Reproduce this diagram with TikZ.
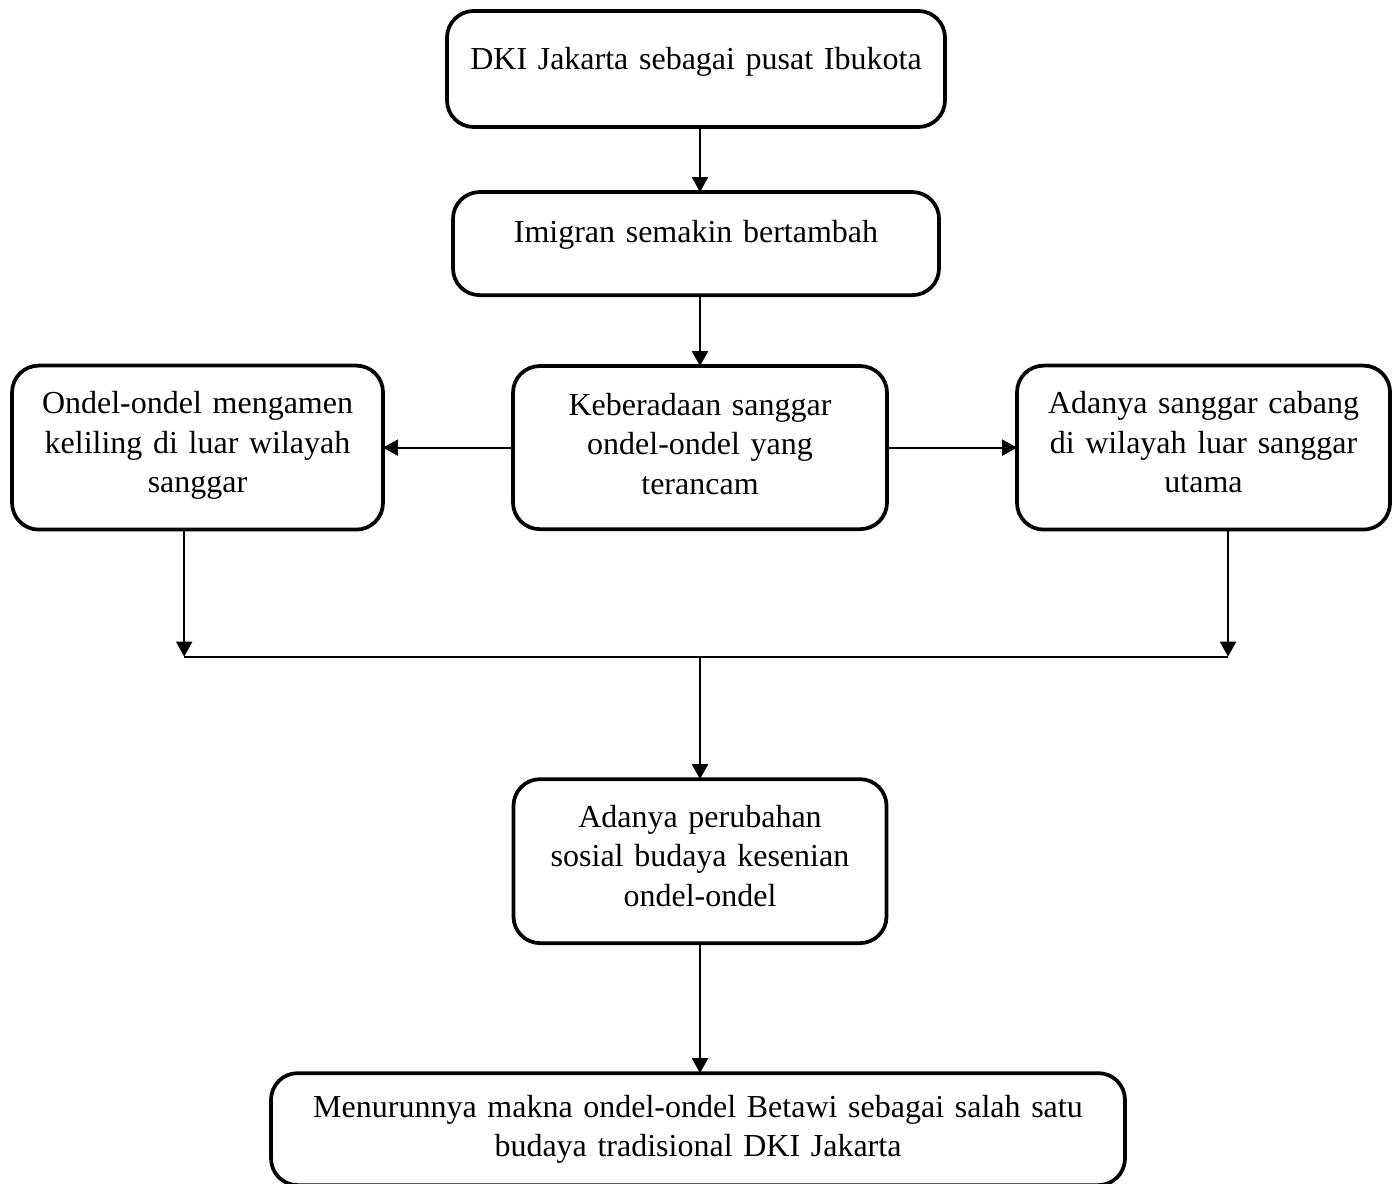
\documentclass[tikz,border=0pt]{standalone}
\usepackage{fontspec}
\setmainfont{Liberation Serif}
\usetikzlibrary{arrows.meta, positioning}
\tikzset{
  flowbox/.style={rectangle, draw=black, line width=1.4pt, rounded corners=10pt,
                  text width=#1, align=center, inner sep=0pt, outer sep=0pt,
                  font=\fontsize{12}{14.8}\selectfont},
  flowbox/.default=140pt,
  arrow/.style={-{Triangle[length=5.6pt, width=6pt]}, line width=0.75pt},
  link/.style={line width=0.75pt},
}

\begin{document}
\begin{tikzpicture}[x=0.375pt, y=0.375pt]
\useasboundingbox (0,0) rectangle (1397,-1183);

% ── Main column: top ─────────────────────────────────────────────────────────
\node[flowbox=186.75pt, text height=21.75pt, text depth=21.75pt, anchor=north]
  (dki) at (696,-11) {DKI Jakarta sebagai pusat Ibukota};
\node[flowbox=182.25pt, text height=18.75pt, text depth=19.9pt,
      below=24.4pt of dki] (imigran) {Imigran semakin bertambah};
\node[flowbox=140.25pt, text height=18.4pt, text depth=42.75pt,
      below=26.6pt of imigran, xshift=1.5pt] (keb)
  {Keberadaan sanggar\\ondel-ondel yang\\terancam};

% ── Side boxes ───────────────────────────────────────────────────────────────
\node[flowbox=139.1pt, text height=18pt, text depth=43.5pt,
      left=48.75pt of keb] (ondel)
  {Ondel-ondel mengamen\\keliling di luar wilayah\\sanggar};
\node[flowbox=139.9pt, text height=18pt, text depth=43.5pt,
      right=48.75pt of keb] (adanya)
  {Adanya sanggar cabang\\di wilayah luar sanggar\\utama};

% ── Main column: bottom ──────────────────────────────────────────────────────
\node[flowbox=139.9pt, text height=18pt, text depth=43.5pt,
      below=93.75pt of keb] (perubahan)
  {Adanya perubahan\\sosial budaya kesenian\\ondel-ondel};
\node[flowbox=320.25pt, text height=16.5pt, text depth=25.5pt,
      below=48.75pt of perubahan, xshift=-0.75pt] (menurun)
  {Menurunnya makna ondel-ondel Betawi sebagai salah satu\\budaya tradisional DKI Jakarta};

% ── Arrows ───────────────────────────────────────────────────────────────────
\draw[arrow] (dki.south -| keb.north) -- (imigran.north -| keb.north);
\draw[arrow] (imigran.south -| keb.north) -- (keb.north);
\draw[arrow] (keb.west) -- (ondel.east);
\draw[arrow] (keb.east) -- (adanya.west);

% ── Joining line ─────────────────────────────────────────────────────────────
\draw[arrow] ([xshift=-5pt]ondel.south) -- ++(0,-127) coordinate (jl);
\draw[arrow] ([xshift=9.2pt]adanya.south) -- ++(0,-127) coordinate (jr);
\draw[link] (jl) -- (jr);
\draw[arrow] (keb.south |- jl) -- (perubahan.north);
\draw[arrow] (perubahan.south) -- (perubahan.south |- menurun.north);

\end{tikzpicture}
\end{document}
